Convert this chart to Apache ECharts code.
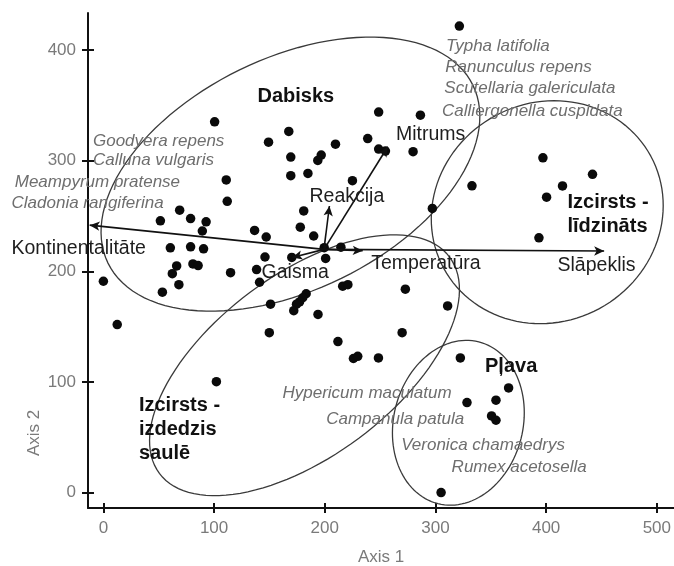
<!DOCTYPE html>
<html><head><meta charset="utf-8">
<script src="https://cdn.jsdelivr.net/npm/echarts@6/dist/echarts.min.js"></script>
<style>html,body{margin:0;padding:0;background:#fff}#c{width:674px;height:566px}</style>
</head><body><div id="c"></div>
<script>
// ---- data ----
const pointX = [321.6,100.5,167.5,149.2,209.7,248.7,286.4,238.8,248.7,254.8,279.8,169.3,196.8,193.7,169.3,184.8,225.0,111.0,111.9,68.9,51.5,78.8,92.8,89.4,181.0,177.9,190.0,136.6,147.1,60.5,78.8,90.5,146.0,170.2,199.5,214.6,200.8,66.2,62.3,80.9,85.6,114.9,138.4,0,12.5,68.2,53.3,141.1,216.2,220.9,183.2,180.1,177.2,174.5,151.0,172.0,193.9,149.9,211.9,272.8,311.0,269.9,225.9,229.8,248.5,102.1,322.5,366.1,328.5,354.7,350.7,354.7,305.1,333.0,297.2,397.1,441.9,414.8,400.4,393.5];
const pointY = [421.6,335.1,326.4,316.7,314.9,343.9,341.1,319.9,310.4,308.6,308.1,303.2,305.0,300.2,286.4,288.4,281.9,282.6,263.2,255.2,245.6,247.6,244.7,236.4,254.5,239.9,231.9,236.9,231.0,221.2,222.1,220.3,212.9,212.5,221.3,221.8,211.6,204.8,197.8,206.7,205.2,198.7,201.6,191.0,151.9,187.9,181.1,190.1,186.5,187.9,179.7,176.1,172.3,170.3,170.3,164.4,161.0,144.5,136.5,183.8,168.7,144.5,121.2,123.2,121.7,100.2,121.7,94.6,81.4,83.5,69.3,65.4,0,277.2,256.8,302.5,287.6,277.1,267.0,230.2];

const xTicks = [0,100,200,300,400,500];
const yTicks = [0,100,200,300,400];

// vectors (environmental arrows)
const arrowOrigin = [199.3, 219.8];
const arrowNames = ['Kontinentalitāte','Slāpeklis','Temperatūra','Gaisma','Reakcija','Mitrums'];
const arrowEndX = [-12.4, 452.4, 234.3, 170.6, 204.2, 256.9];
const arrowEndY = [241.7, 218.3, 218.5, 212.5, 259.0, 312.5];
const arrowLabelX = [-83.0, 410.3, 241.9, 142.9, 186.2, 264.4];
const arrowLabelY = [220.9, 205.5, 207.1, 199.2, 267.9, 323.7];

// group ellipses: centre, semi-axes, angle (deg)
const groupNames = ['Dabisks','Izcirsts -\nlīdzināts','Pļava','Izcirsts -\nizdedzis\nsaulē'];
const ellCX = [169.0, 401.0, 320.7, 181.7];
const ellCY = [287.8, 253.4, 63.1, 115.1];
const ellA  = [183.4, 106.4, 75.4, 163.5];
const ellB  = [104.8, 99.0, 58.4, 82.2];
const ellAng= [26, 28.4, 75.8, 36.7];
const groupLabelX = [139.2, 419.3, 344.8, 32.1];
const groupLabelY = [358.4, 251.4, 113.6, 57.0];

// species labels
const speciesNames = ['Goodyera repens','Calluna vulgaris','Meampyrum pratense','Cladonia rangiferina','Typha latifolia','Ranunculus repens','Scutellaria galericulata','Calliergonella cuspidata','Hypericum maculatum','Campanula patula','Veronica chamaedrys','Rumex acetosella'];
const speciesX = [-9.4,-9.4,-80.1,-83.0,309.6,308.9,308.0,306.0,161.8,201.3,269.0,314.6];
const speciesY = [317.9,300.5,280.8,261.6,403.5,384.8,365.3,345.0,89.8,66.3,42.8,22.6];

// ---- chart ----
const FONT = "'Liberation Sans', Arial, sans-serif";
const chart = echarts.init(document.getElementById('c'));

function textSeries(xs, ys, texts, style) {
  return {
    type: 'custom', coordinateSystem: 'cartesian2d', silent: true, clip: false, z: 5,
    data: xs.map((x, i) => [x, ys[i]]),
    renderItem: function (params, api) {
      const p = api.coord([api.value(0), api.value(1)]);
      return { type: 'text', x: p[0], y: p[1], style: Object.assign({
        text: texts[params.dataIndex], align: 'left', verticalAlign: 'middle', fontFamily: FONT
      }, style) };
    }
  };
}

const baseX = { type: 'value', min: -13.9, max: 515, splitLine: { show: false } };
const baseY = { type: 'value', min: -13.9, max: 433.4, splitLine: { show: false } };

const option = {
  animation: false,
  backgroundColor: '#fff',
  grid: { left: 88, right: 0, top: 13, bottom: 58, containLabel: false },
  xAxis: [
    Object.assign({}, baseX, {
      position: 'bottom',
      axisLine: { show: true, onZero: false, lineStyle: { color: '#111', width: 2 } },
      axisTick: { show: true, length: 5, customValues: xTicks, lineStyle: { color: '#111', width: 2 } },
      axisLabel: { customValues: xTicks, color: '#7a7a7a', fontSize: 17, fontFamily: FONT, margin: 12 }
    }),
    Object.assign({}, baseX, {
      position: 'bottom', offset: 0,
      axisLine: { show: false, onZero: false },
      axisTick: { show: true, inside: true, length: 5, customValues: xTicks, lineStyle: { color: '#111', width: 2 } },
      axisLabel: { show: false }
    })
  ],
  yAxis: [
    Object.assign({}, baseY, {
      position: 'left',
      axisLine: { show: true, onZero: false, lineStyle: { color: '#111', width: 2 } },
      axisTick: { show: true, length: 6, customValues: yTicks, lineStyle: { color: '#111', width: 2 } },
      axisLabel: { customValues: yTicks, color: '#7a7a7a', fontSize: 17, fontFamily: FONT, margin: 12 }
    }),
    Object.assign({}, baseY, {
      position: 'left', offset: 0,
      axisLine: { show: false, onZero: false },
      axisTick: { show: true, inside: true, length: 6, customValues: yTicks, lineStyle: { color: '#111', width: 2 } },
      axisLabel: { show: false }
    })
  ],
  graphic: [
    { type: 'text', left: 358, top: 549, style: { text: 'Axis 1', fill: '#7a7a7a', fontSize: 17, fontFamily: "'Liberation Sans Narrow', 'Liberation Sans', sans-serif" } },
    { type: 'text', x: 26, y: 456, rotation: Math.PI / 2, style: { text: 'Axis 2', fill: '#7a7a7a', fontSize: 17, fontFamily: "'Liberation Sans Narrow', 'Liberation Sans', sans-serif" } }
  ],
  series: [
    {
      type: 'custom', coordinateSystem: 'cartesian2d', silent: true, z: 2,
      data: ellCX.map((cx, i) => [cx, ellCY[i], ellA[i], ellB[i], ellAng[i]]),
      renderItem: function (params, api) {
        const cx = api.value(0), cy = api.value(1), a = api.value(2), b = api.value(3);
        const th = api.value(4) * Math.PI / 180;
        const pts = [];
        for (let k = 0; k <= 120; k++) {
          const t = 2 * Math.PI * k / 120;
          const dx = a * Math.cos(t), dy = b * Math.sin(t);
          pts.push(api.coord([cx + dx * Math.cos(th) - dy * Math.sin(th), cy + dx * Math.sin(th) + dy * Math.cos(th)]));
        }
        return { type: 'polygon', shape: { points: pts }, style: { fill: 'none', stroke: '#3a3a3a', lineWidth: 1.3 } };
      }
    },
    {
      type: 'scatter', symbol: 'circle', symbolSize: 9.5, z: 3,
      itemStyle: { color: '#0a0a0a', opacity: 1 },
      data: pointX.map((x, i) => [x, pointY[i]])
    },
    {
      type: 'line', data: [], z: 4,
      markLine: {
        silent: true, symbol: ['none', 'arrow'], symbolSize: [7, 10], animation: false,
        label: { show: false },
        lineStyle: { color: '#111', width: 1.6, type: 'solid', opacity: 1 },
        data: arrowEndX.map((x, i) => [{ coord: arrowOrigin }, { coord: [x, arrowEndY[i]] }])
      }
    },
    textSeries(speciesX, speciesY, speciesNames, { fill: '#6e6e6e', fontSize: 17, fontStyle: 'italic' }),
    textSeries(arrowLabelX, arrowLabelY, arrowNames, { fill: '#1e1e1e', fontSize: 19.5 }),
    textSeries(groupLabelX, groupLabelY, groupNames, { fill: '#111', fontSize: 20, fontWeight: 'bold', lineHeight: 24 })
  ]
};
chart.setOption(option);
</script></body></html>
